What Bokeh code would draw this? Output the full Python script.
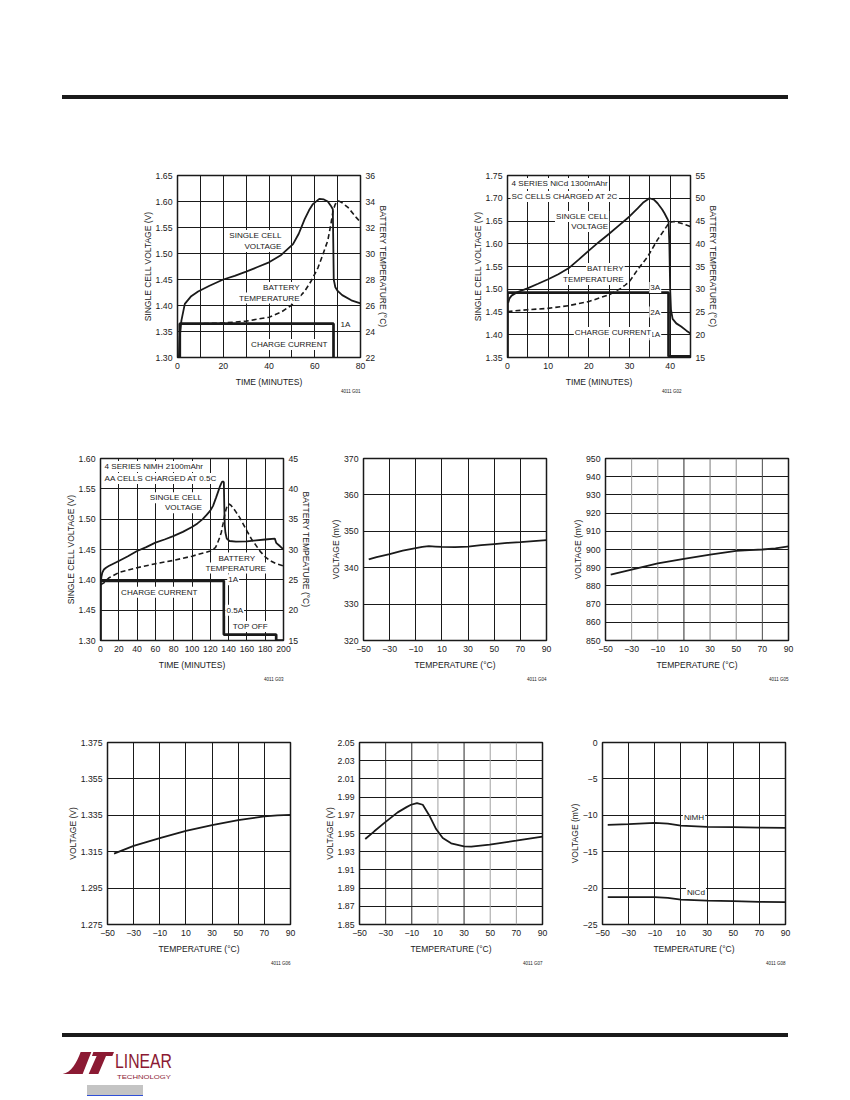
from bokeh.plotting import figure
from bokeh.models import Range1d, LinearAxis, FixedTicker, Label, Title, Div, PrintfTickFormatter, Span
from bokeh.layouts import column, row
from bokeh.embed import file_html
from bokeh.resources import INLINE

# ---------------- DATA ----------------
# Chart 1: single cell charge at 1A
c1_t = [0.6, 1.0, 1.7, 3.2, 6, 9, 14, 20, 25, 30, 35, 40, 45, 50.5, 53, 55.6, 57.5, 59.2, 62, 64, 65.7, 67, 67.9,
        68.1, 68.3, 69, 70, 72, 76, 80]
c1_v = [1.30, 1.34, 1.371, 1.403, 1.418, 1.427, 1.438, 1.45, 1.457, 1.465, 1.474, 1.483, 1.496, 1.518, 1.538, 1.566,
        1.583, 1.595, 1.605, 1.604, 1.60, 1.592, 1.585, 1.52, 1.45, 1.435, 1.428, 1.42, 1.41, 1.404]
c1_tt = [1, 10, 20, 30, 40, 45.4, 50.5, 55.6, 58.5, 61.4, 63.5, 65.7, 67, 68, 69, 70.4, 72, 74.5, 78, 80]
c1_temp = [24.6, 24.6, 24.65, 24.8, 25.1, 25.5, 26.1, 27.1, 27.9, 28.9, 29.9, 31.0, 32.2, 33.3, 33.8, 34.05, 33.9,
           33.55, 32.8, 32.4]
c1_it = [1, 1, 68.2, 68.2]
c1_i = [0, 1, 1, 0]

# Chart 2: 4 series NiCd 1300mAhr SC cells at 2C
c2_t = [0.15, 0.5, 1, 2.5, 4.9, 7.5, 10, 12.5, 15, 17.5, 20, 22.5, 25, 27.5, 30, 32, 33.3, 34.9, 36, 36.9, 38, 38.6,
        39.3, 39.6, 39.8, 40.0, 40.2, 40.6, 41.5, 42.7, 44, 45]
c2_v = [1.47, 1.48, 1.486, 1.494, 1.502, 1.512, 1.522, 1.533, 1.546, 1.565, 1.585, 1.604, 1.622, 1.641, 1.66, 1.678,
        1.69, 1.70, 1.697, 1.689, 1.676, 1.667, 1.655, 1.649, 1.60, 1.50, 1.455, 1.435, 1.425, 1.418, 1.409, 1.403]
c2_tt = [0, 4.9, 10, 15, 20, 25, 27.9, 30, 32, 34.5, 36.9, 38.6, 39.8, 41, 42.7, 45]
c2_temp = [25.1, 25.5, 25.8, 26.4, 27.3, 28.8, 30.2, 31.7, 34.3, 37.2, 40.9, 43.1, 44.7, 44.9, 44.5, 43.8]
c2_it = [0, 0, 39.6, 39.6, 45]
c2_i = [0, 2.85, 2.85, 0.05, 0.05]

# Chart 3: 4 series NiMH 2100mAhr AA cells at 0.5C
c3_t = [0.5, 1, 2, 3.7, 6, 9, 14, 20, 30, 40, 50, 60, 70, 79.5, 90, 100, 106, 111.7, 116, 120, 123, 126.4, 128.5,
        130.8, 132, 133, 134, 134.8, 135.3, 135.8, 136.5, 138, 141, 148, 160, 170, 180, 190.5, 192, 195, 197.8, 200]
c3_v = [1.398, 1.405, 1.412, 1.417, 1.42, 1.4227, 1.4265, 1.431, 1.439, 1.4475, 1.454, 1.4613, 1.4665, 1.472, 1.479,
        1.487, 1.493, 1.50, 1.507, 1.514, 1.522, 1.536, 1.545, 1.555, 1.559, 1.562, 1.562, 1.561, 1.52, 1.49, 1.478,
        1.468, 1.464, 1.463, 1.4635, 1.465, 1.4665, 1.468, 1.461, 1.457, 1.453, 1.451]
c3_tt = [0, 3.7, 9, 20, 40, 60, 79.5, 100, 120, 125.6, 128, 130, 132, 134, 135.5, 137, 138.5, 140.3, 142.5, 144.7,
         148, 152, 156, 161, 165.5, 170.3, 175, 181, 186, 192, 200]
c3_temp = [24.2, 24.5, 25.3, 26.2, 27.0, 27.65, 28.2, 28.9, 29.75, 30.3, 31.1, 31.9, 32.8, 34.3, 35.55, 36.5, 37.2,
           37.5, 37.3, 36.9, 36.2, 35.3, 34.2, 32.8, 31.6, 30.6, 29.6, 28.65, 28.1, 27.65, 27.3]
c3_it = [0, 0, 134.8, 134.8, 192, 192, 200]
c3_i = [0, 1, 1, 0.1, 0.1, 0, 0]

# Charts 4-8: temperature characteristics
c4_T = [-46, -40, -30, -20, -10, -5, 0, 5, 10, 20, 30, 40, 50, 60, 70, 80, 90]
c4_v = [342.3, 342.9, 343.7, 344.7, 345.4, 345.7, 345.9, 345.8, 345.7, 345.65, 345.8, 346.2, 346.5, 346.8, 347.0,
        347.3, 347.6]
c5_T = [-46, -30, -10, 10, 30, 50, 60, 70, 80, 90]
c5_v = [886.2, 888.9, 892.4, 894.8, 897.2, 899.3, 899.7, 900.0, 900.6, 901.7]
c6_T = [-45, -30, -10, 10, 30, 50, 70, 80, 90]
c6_v = [1.3139, 1.3182, 1.3224, 1.3264, 1.3296, 1.3324, 1.3344, 1.3350, 1.3352]
c7_T = [-45.6, -38.7, -30.5, -20.8, -14, -10.6, -6.0, -1.6, 3.5, 8.6, 13.7, 20.1, 29.9, 35.5, 49.6, 69.8, 90]
c7_v = [1.944, 1.9524, 1.9622, 1.9732, 1.979, 1.9816, 1.9835, 1.9816, 1.9696, 1.9549, 1.9451, 1.9392, 1.9359,
        1.9356, 1.9378, 1.9421, 1.9465]
c8_T = [-46, -30, -10, 0, 10, 30, 50, 70, 90]
c8_nimh = [-11.31, -11.22, -11.05, -11.15, -11.42, -11.58, -11.63, -11.68, -11.72]
c8_nicd = [-21.25, -21.25, -21.25, -21.35, -21.58, -21.73, -21.8, -21.88, -21.93]

# tick labels
temp_ticks = [-50, -30, -10, 10, 30, 50, 70, 90]
minus_labels = {-50: "\u221250", -30: "\u221230", -10: "\u221210"}
c1_xticks = [0, 20, 40, 60, 80]
c1_xgrid = [0, 10, 20, 30, 40, 50, 60, 70, 80]
c1_yticks = [1.30, 1.35, 1.40, 1.45, 1.50, 1.55, 1.60, 1.65]
c1_rticks = [22, 24, 26, 28, 30, 32, 34, 36]
c2_xticks = [0, 10, 20, 30, 40]
c2_xgrid = [0, 5, 10, 15, 20, 25, 30, 35, 40, 45]
c2_yticks = [1.35, 1.40, 1.45, 1.50, 1.55, 1.60, 1.65, 1.70, 1.75]
c2_rticks = [15, 20, 25, 30, 35, 40, 45, 50, 55]
c3_xticks = [0, 20, 40, 60, 80, 100, 120, 140, 160, 180, 200]
c3_yticks = [1.30, 1.35, 1.40, 1.45, 1.50, 1.55, 1.60]
c3_ylabels = {1.35: "1.45"}
c3_rticks = [15, 20, 25, 30, 35, 40, 45]
c4_yticks = [320, 330, 340, 350, 360, 370]
c5_yticks = [850, 860, 870, 880, 890, 900, 910, 920, 930, 940, 950]
c6_yticks = [1.275, 1.295, 1.315, 1.335, 1.355, 1.375]
c7_yticks = [1.85, 1.87, 1.89, 1.91, 1.93, 1.95, 1.97, 1.99, 2.01, 2.03, 2.05]
c8_yticks = [-25, -20, -15, -10, -5, 0]
c8_ylabels = {-25: "\u221225", -20: "\u221220", -15: "\u221215", -10: "\u221210", -5: "\u22125"}

# ---------------- STYLE ----------------
FONT = "Liberation Sans"
INK = "#1a1a1a"
TICK_FS = "8.7px"
LAB_FS = "8.5px"
NOTE_FS = "8.1px"
FW, FH = 183, 182
# faded vertical grid lines seen in the scanned charts 5 and 7
c5_vgrid_colors = {-30: "#9a9a9a", -10: "#9a9a9a", 10: "#2a2a2a", 30: "#7a7a7a", 50: "#8a8a8a", 70: "#4a4a4a"}
c7_vgrid_colors = {-30: "#2a2a2a", -10: "#2a2a2a", 10: "#a0a0a0", 30: "#2a2a2a", 50: "#a0a0a0", 70: "#a0a0a0"}


def style_axis(ax, label_standoff):
    ax.axis_line_color = None
    ax.major_tick_line_color = None
    ax.minor_tick_line_color = None
    ax.major_tick_in = 0
    ax.major_tick_out = 0
    ax.major_label_standoff = 5
    ax.axis_label_standoff = label_standoff
    ax.major_label_text_font = FONT
    ax.major_label_text_font_size = TICK_FS
    ax.major_label_text_color = INK
    ax.axis_label_text_font = FONT
    ax.axis_label_text_font_size = LAB_FS
    ax.axis_label_text_font_style = "normal"
    ax.axis_label_text_color = INK


def make_fig(xr, yr, xticks, xgrid, yticks, borders, xlabel, ylabel, code, yfmt=None, xover=None, yover=None,
             code_standoff=5, code_offset=0, vgrid_colors=None):
    bl, br, bt, bb = borders
    p = figure(output_backend="svg", toolbar_location=None, tools="",
               x_range=Range1d(*xr), y_range=Range1d(*yr),
               width=bl + FW + br, height=bt + FH + bb, frame_width=FW, frame_height=FH,
               min_border_left=bl, min_border_right=br, min_border_top=bt, min_border_bottom=bb)
    p.background_fill_color = "white"
    p.border_fill_color = "white"
    p.outline_line_color = INK
    p.outline_line_width = 1.5
    p.xaxis.ticker = FixedTicker(ticks=xticks)
    p.yaxis.ticker = FixedTicker(ticks=yticks)
    p.xgrid.ticker = FixedTicker(ticks=xgrid)
    p.ygrid.ticker = FixedTicker(ticks=yticks)
    for g in (p.xgrid, p.ygrid):
        g.grid_line_color = INK
        g.grid_line_width = 1
        g.grid_line_alpha = 1
    if vgrid_colors:
        p.xgrid.visible = False
        for loc, col in vgrid_colors.items():
            p.add_layout(Span(location=loc, dimension="height", line_color=col, line_width=1, level="underlay"))
    if yfmt:
        p.yaxis.formatter = PrintfTickFormatter(format=yfmt)
    if xover:
        p.xaxis.major_label_overrides = xover
    if yover:
        p.yaxis.major_label_overrides = yover
    p.xaxis.axis_label = xlabel
    p.yaxis.axis_label = ylabel
    for ax in p.xaxis:
        style_axis(ax, 5)
    for ax in p.yaxis:
        style_axis(ax, 0)
    t = Title(text=code, align="right", text_font=FONT, text_font_size="4.5px", text_font_style="normal",
              text_color=INK, standoff=code_standoff, offset=code_offset)
    p.add_layout(t, "below")
    return p


def add_right(p, name, rng, ticks, label):
    p.extra_y_ranges[name] = Range1d(*rng)
    ax = LinearAxis(y_range_name=name, ticker=FixedTicker(ticks=ticks), axis_label=label)
    style_axis(ax, 0)
    p.add_layout(ax, "right")


def note(p, x, y, text, align="center"):
    p.add_layout(Label(x=x, y=y, text=text, text_font=FONT, text_font_size=NOTE_FS, text_color=INK,
                       text_align=align, text_baseline="middle",
                       background_fill_color="white", background_fill_alpha=1.0, padding=1))


SOLID_W = 1.8
DASH_W = 1.6
CUR_W = 2.7

# ---------------- ROW 1 ----------------
p1 = make_fig((0, 80), (1.30, 1.65), c1_xticks, c1_xgrid, c1_yticks, (177, 63, 76, 56),
              "TIME (MINUTES)", "SINGLE CELL VOLTAGE (V)", "4011 G01", yfmt="%.2f", code_standoff=-6)
add_right(p1, "temp", (22, 36), c1_rticks, "BATTERY TEMPERATURE (\u00b0C)")
p1.extra_y_ranges["cur"] = Range1d(0, 5.385)
p1.line(c1_it, c1_i, y_range_name="cur", line_width=CUR_W, line_color=INK)
p1.line(c1_tt, c1_temp, y_range_name="temp", line_width=DASH_W, line_color=INK, line_dash="5 3")
p1.line(c1_t, c1_v, line_width=SOLID_W, line_color=INK)
note(p1, 45.9, 1.5346, "SINGLE CELL", "right")
note(p1, 45.9, 1.5135, "VOLTAGE", "right")
note(p1, 53.8, 1.4346, "BATTERY", "right")
note(p1, 53.8, 1.4144, "TEMPERATURE", "right")
note(p1, 70.8, 1.3644, "1A", "left")
note(p1, 66.0, 1.325, "CHARGE CURRENT", "right")

p2 = make_fig((0, 45), (1.35, 1.75), c2_xticks, c2_xgrid, c2_yticks, (84, 158, 76, 56),
              "TIME (MINUTES)", "SINGLE CELL VOLTAGE (V)", "4011 G02", yfmt="%.2f", code_standoff=-6,
              code_offset=9)
add_right(p2, "temp", (15, 55), c2_rticks, "BATTERY TEMPERATURE (\u00b0C)")
p2.extra_y_ranges["cur"] = Range1d(0, 8)
p2.line(c2_it, c2_i, y_range_name="cur", line_width=CUR_W, line_color=INK)
p2.line(c2_tt, c2_temp, y_range_name="temp", line_width=DASH_W, line_color=INK, line_dash="5 3")
p2.line(c2_t, c2_v, line_width=SOLID_W, line_color=INK)
note(p2, 0.74, 1.7324, "4 SERIES NiCd 1300mAhr", "left")
note(p2, 0.74, 1.7038, "SC CELLS CHARGED AT 2C", "left")
note(p2, 25.0, 1.66, "SINGLE CELL", "right")
note(p2, 25.0, 1.638, "VOLTAGE", "right")
note(p2, 28.8, 1.5456, "BATTERY", "right")
note(p2, 28.8, 1.5214, "TEMPERATURE", "right")
note(p2, 37.8, 1.504, "3A", "right")
note(p2, 37.8, 1.45, "2A", "right")
note(p2, 37.8, 1.40, "1A", "right")
note(p2, 35.6, 1.405, "CHARGE CURRENT", "right")

# ---------------- ROW 2 ----------------
p3 = make_fig((0, 200), (1.30, 1.60), c3_xticks, c3_xticks, c3_yticks, (100, 38, 45, 58),
              "TIME (MINUTES)", "SINGLE CELL VOLTAGE (V)", "4011 G03", yfmt="%.2f", yover=c3_ylabels,
              code_standoff=4)
add_right(p3, "temp", (15, 45), c3_rticks, "BATTERY TEMPEATURE (\u00b0C)")
p3.extra_y_ranges["cur"] = Range1d(0, 3.05)
p3.line(c3_it, c3_i, y_range_name="cur", line_width=CUR_W, line_color=INK)
p3.line(c3_tt, c3_temp, y_range_name="temp", line_width=DASH_W, line_color=INK, line_dash="5 3")
p3.line(c3_t, c3_v, line_width=SOLID_W, line_color=INK)
note(p3, 3.3, 1.5867, "4 SERIES NiMH 2100mAhr", "left")
note(p3, 3.3, 1.5669, "AA CELLS CHARGED AT 0.5C", "left")
note(p3, 112, 1.5354, "SINGLE CELL", "right")
note(p3, 112, 1.5188, "VOLTAGE", "right")
note(p3, 148.9, 1.4359, "BATTERY")
note(p3, 147.8, 1.4193, "TEMPERATURE")
note(p3, 145, 1.40, "1A")
note(p3, 64.3, 1.3796, "CHARGE CURRENT")
note(p3, 146.7, 1.35, "0.5A")
note(p3, 163.7, 1.3232, "TOP OFF")

p4 = make_fig((-50, 90), (320, 370), temp_ticks, temp_ticks, c4_yticks, (42, 19, 45, 58),
              "TEMPERATURE (\u00b0C)", "VOLTAGE (mV)", "4011 G04", xover=minus_labels, code_standoff=4)
p4.line(c4_T, c4_v, line_width=SOLID_W, line_color=INK)

p5 = make_fig((-50, 90), (850, 950), temp_ticks, temp_ticks, c5_yticks, (40, 58, 45, 58),
              "TEMPERATURE (\u00b0C)", "VOLTAGE (mV)", "4011 G05", xover=minus_labels, code_standoff=4,
              vgrid_colors=c5_vgrid_colors)
p5.line(c5_T, c5_v, line_width=SOLID_W, line_color=INK)

# ---------------- ROW 3 ----------------
p6 = make_fig((-50, 90), (1.275, 1.375), temp_ticks, temp_ticks, c6_yticks, (107, 20, 44, 104),
              "TEMPERATURE (\u00b0C)", "VOLTAGE (V)", "4011 G06", yfmt="%.3f", xover=minus_labels)
p6.line(c6_T, c6_v, line_width=SOLID_W, line_color=INK)

p7 = make_fig((-50, 90), (1.85, 2.05), temp_ticks, temp_ticks, c7_yticks, (49, 20, 44, 104),
              "TEMPERATURE (\u00b0C)", "VOLTAGE (V)", "4011 G07", yfmt="%.2f", xover=minus_labels,
              vgrid_colors=c7_vgrid_colors)
p7.line(c7_T, c7_v, line_width=SOLID_W, line_color=INK)

p8 = make_fig((-50, 90), (-25, 0), temp_ticks, temp_ticks, c8_yticks, (40, 61, 44, 104),
              "TEMPERATURE (\u00b0C)", "VOLTAGE (mV)", "4011 G08", xover=minus_labels, yover=c8_ylabels)
p8.line(c8_T, c8_nimh, line_width=SOLID_W, line_color=INK)
p8.line(c8_T, c8_nicd, line_width=SOLID_W, line_color=INK)
note(p8, 20.0, -10.3, "NiMH")
note(p8, 21.5, -20.6, "NiCd")

# ---------------- PAGE DECOR ----------------
header = Div(width=848, height=99, margin=0, text=(
    '<svg width="848" height="99" style="display:block" xmlns="http://www.w3.org/2000/svg">'
    '<rect x="62" y="95" width="726" height="4" fill="#1a1a1a"/></svg>'))

footer = Div(width=848, height=70, margin=0, text=(
    '<svg width="848" height="70" style="display:block" xmlns="http://www.w3.org/2000/svg">'
    '<rect x="62" y="5" width="726" height="4" fill="#1a1a1a"/>'
    '<g transform="translate(50,-8) scale(0.3333)" fill="#8b1a33">'
    '<path d="M 38 162 C 64 158 80 128 92 96 L 124 96 L 98 162 Z"/>'
    '<path d="M 130 96 L 192 96 L 187 108 L 168 108 L 145 162 L 116 162 L 140 108 L 126 108 Z"/>'
    '</g>'
    '<text x="115" y="40" font-family="Liberation Sans" font-size="21" fill="#8b1a33" '
    'textLength="57" lengthAdjust="spacingAndGlyphs">LINEAR</text>'
    '<text x="117" y="50.5" font-family="Liberation Sans" font-size="6" fill="#8b1a33" '
    'textLength="54" lengthAdjust="spacingAndGlyphs">TECHNOLOGY</text>'
    '<rect x="87" y="57" width="56" height="10" fill="#c4c4c4"/>'
    '<rect x="87" y="67" width="56" height="1" fill="#2f4fd8"/>'
    '</svg>'))

layout = column(header, row(p1, p2), row(p3, p4, p5), row(p6, p7, p8), footer)

with open("out.html", "w") as f:
    f.write(file_html(layout, INLINE))
